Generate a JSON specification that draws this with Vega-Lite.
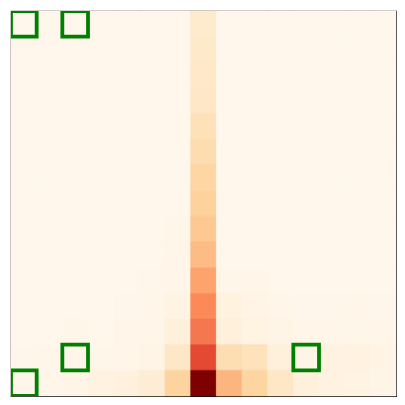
{
  "$schema": "https://vega.github.io/schema/vega-lite/v6.json",
  "width": 385,
  "height": 385,
  "padding": 10,
  "background": "white",
  "view": {"stroke": "black", "strokeWidth": 1.2},
  "datasets": {
    "cells": [
      {"row":0,"col":0,"v":0},{"row":0,"col":1,"v":0},{"row":0,"col":2,"v":0},{"row":0,"col":3,"v":0},{"row":0,"col":4,"v":0},{"row":0,"col":5,"v":0},{"row":0,"col":6,"v":0},{"row":0,"col":7,"v":0.11},{"row":0,"col":8,"v":0},{"row":0,"col":9,"v":0},{"row":0,"col":10,"v":0},{"row":0,"col":11,"v":0},{"row":0,"col":12,"v":0},{"row":0,"col":13,"v":0},{"row":0,"col":14,"v":0},
      {"row":1,"col":0,"v":0},{"row":1,"col":1,"v":0},{"row":1,"col":2,"v":0},{"row":1,"col":3,"v":0},{"row":1,"col":4,"v":0},{"row":1,"col":5,"v":0},{"row":1,"col":6,"v":0},{"row":1,"col":7,"v":0.12},{"row":1,"col":8,"v":0},{"row":1,"col":9,"v":0},{"row":1,"col":10,"v":0},{"row":1,"col":11,"v":0},{"row":1,"col":12,"v":0},{"row":1,"col":13,"v":0},{"row":1,"col":14,"v":0},
      {"row":2,"col":0,"v":0},{"row":2,"col":1,"v":0},{"row":2,"col":2,"v":0},{"row":2,"col":3,"v":0},{"row":2,"col":4,"v":0},{"row":2,"col":5,"v":0},{"row":2,"col":6,"v":0},{"row":2,"col":7,"v":0.125},{"row":2,"col":8,"v":0},{"row":2,"col":9,"v":0},{"row":2,"col":10,"v":0},{"row":2,"col":11,"v":0},{"row":2,"col":12,"v":0},{"row":2,"col":13,"v":0},{"row":2,"col":14,"v":0},
      {"row":3,"col":0,"v":0},{"row":3,"col":1,"v":0},{"row":3,"col":2,"v":0},{"row":3,"col":3,"v":0},{"row":3,"col":4,"v":0},{"row":3,"col":5,"v":0},{"row":3,"col":6,"v":0},{"row":3,"col":7,"v":0.13},{"row":3,"col":8,"v":0},{"row":3,"col":9,"v":0},{"row":3,"col":10,"v":0},{"row":3,"col":11,"v":0},{"row":3,"col":12,"v":0},{"row":3,"col":13,"v":0},{"row":3,"col":14,"v":0},
      {"row":4,"col":0,"v":0},{"row":4,"col":1,"v":0},{"row":4,"col":2,"v":0},{"row":4,"col":3,"v":0},{"row":4,"col":4,"v":0},{"row":4,"col":5,"v":0},{"row":4,"col":6,"v":0},{"row":4,"col":7,"v":0.17},{"row":4,"col":8,"v":0},{"row":4,"col":9,"v":0},{"row":4,"col":10,"v":0},{"row":4,"col":11,"v":0},{"row":4,"col":12,"v":0},{"row":4,"col":13,"v":0},{"row":4,"col":14,"v":0},
      {"row":5,"col":0,"v":0},{"row":5,"col":1,"v":0},{"row":5,"col":2,"v":0},{"row":5,"col":3,"v":0},{"row":5,"col":4,"v":0},{"row":5,"col":5,"v":0},{"row":5,"col":6,"v":0},{"row":5,"col":7,"v":0.2},{"row":5,"col":8,"v":0},{"row":5,"col":9,"v":0},{"row":5,"col":10,"v":0},{"row":5,"col":11,"v":0},{"row":5,"col":12,"v":0},{"row":5,"col":13,"v":0},{"row":5,"col":14,"v":0},
      {"row":6,"col":0,"v":0},{"row":6,"col":1,"v":0},{"row":6,"col":2,"v":0},{"row":6,"col":3,"v":0},{"row":6,"col":4,"v":0},{"row":6,"col":5,"v":0},{"row":6,"col":6,"v":0},{"row":6,"col":7,"v":0.235},{"row":6,"col":8,"v":0},{"row":6,"col":9,"v":0},{"row":6,"col":10,"v":0},{"row":6,"col":11,"v":0},{"row":6,"col":12,"v":0},{"row":6,"col":13,"v":0},{"row":6,"col":14,"v":0},
      {"row":7,"col":0,"v":0},{"row":7,"col":1,"v":0},{"row":7,"col":2,"v":0},{"row":7,"col":3,"v":0},{"row":7,"col":4,"v":0},{"row":7,"col":5,"v":0},{"row":7,"col":6,"v":0.002},{"row":7,"col":7,"v":0.26},{"row":7,"col":8,"v":0},{"row":7,"col":9,"v":0},{"row":7,"col":10,"v":0},{"row":7,"col":11,"v":0},{"row":7,"col":12,"v":0},{"row":7,"col":13,"v":0},{"row":7,"col":14,"v":0},
      {"row":8,"col":0,"v":0},{"row":8,"col":1,"v":0},{"row":8,"col":2,"v":0},{"row":8,"col":3,"v":0},{"row":8,"col":4,"v":0},{"row":8,"col":5,"v":0},{"row":8,"col":6,"v":0.006},{"row":8,"col":7,"v":0.31},{"row":8,"col":8,"v":0},{"row":8,"col":9,"v":0},{"row":8,"col":10,"v":0},{"row":8,"col":11,"v":0},{"row":8,"col":12,"v":0},{"row":8,"col":13,"v":0},{"row":8,"col":14,"v":0},
      {"row":9,"col":0,"v":0},{"row":9,"col":1,"v":0},{"row":9,"col":2,"v":0},{"row":9,"col":3,"v":0},{"row":9,"col":4,"v":0},{"row":9,"col":5,"v":0},{"row":9,"col":6,"v":0.01},{"row":9,"col":7,"v":0.37},{"row":9,"col":8,"v":0.002},{"row":9,"col":9,"v":0},{"row":9,"col":10,"v":0},{"row":9,"col":11,"v":0},{"row":9,"col":12,"v":0},{"row":9,"col":13,"v":0},{"row":9,"col":14,"v":0},
      {"row":10,"col":0,"v":0},{"row":10,"col":1,"v":0},{"row":10,"col":2,"v":0},{"row":10,"col":3,"v":0},{"row":10,"col":4,"v":0.002},{"row":10,"col":5,"v":0.005},{"row":10,"col":6,"v":0.015},{"row":10,"col":7,"v":0.44},{"row":10,"col":8,"v":0.008},{"row":10,"col":9,"v":0.01},{"row":10,"col":10,"v":0.004},{"row":10,"col":11,"v":0.002},{"row":10,"col":12,"v":0},{"row":10,"col":13,"v":0},{"row":10,"col":14,"v":0},
      {"row":11,"col":0,"v":0},{"row":11,"col":1,"v":0},{"row":11,"col":2,"v":0},{"row":11,"col":3,"v":0.002},{"row":11,"col":4,"v":0.005},{"row":11,"col":5,"v":0.01},{"row":11,"col":6,"v":0.03},{"row":11,"col":7,"v":0.51},{"row":11,"col":8,"v":0.045},{"row":11,"col":9,"v":0.025},{"row":11,"col":10,"v":0.012},{"row":11,"col":11,"v":0.005},{"row":11,"col":12,"v":0.005},{"row":11,"col":13,"v":0.015},{"row":11,"col":14,"v":0.005},
      {"row":12,"col":0,"v":0},{"row":12,"col":1,"v":0},{"row":12,"col":2,"v":0.006},{"row":12,"col":3,"v":0.004},{"row":12,"col":4,"v":0.01},{"row":12,"col":5,"v":0.015},{"row":12,"col":6,"v":0.06},{"row":12,"col":7,"v":0.57},{"row":12,"col":8,"v":0.055},{"row":12,"col":9,"v":0.035},{"row":12,"col":10,"v":0.02},{"row":12,"col":11,"v":0.01},{"row":12,"col":12,"v":0.01},{"row":12,"col":13,"v":0.008},{"row":12,"col":14,"v":0.012},
      {"row":13,"col":0,"v":0.005},{"row":13,"col":1,"v":0.008},{"row":13,"col":2,"v":0.01},{"row":13,"col":3,"v":0.008},{"row":13,"col":4,"v":0.015},{"row":13,"col":5,"v":0.025},{"row":13,"col":6,"v":0.13},{"row":13,"col":7,"v":0.69},{"row":13,"col":8,"v":0.19},{"row":13,"col":9,"v":0.16},{"row":13,"col":10,"v":0.06},{"row":13,"col":11,"v":0.02},{"row":13,"col":12,"v":0.04},{"row":13,"col":13,"v":0.04},{"row":13,"col":14,"v":0.025},
      {"row":14,"col":0,"v":0.01},{"row":14,"col":1,"v":0.012},{"row":14,"col":2,"v":0.018},{"row":14,"col":3,"v":0.04},{"row":14,"col":4,"v":0.05},{"row":14,"col":5,"v":0.08},{"row":14,"col":6,"v":0.25},{"row":14,"col":7,"v":1.0},{"row":14,"col":8,"v":0.39},{"row":14,"col":9,"v":0.245},{"row":14,"col":10,"v":0.13},{"row":14,"col":11,"v":0.06},{"row":14,"col":12,"v":0.04},{"row":14,"col":13,"v":0.035},{"row":14,"col":14,"v":0.018}
    ],
    "marks": [
      {"row":0,"col":0},{"row":0,"col":2},{"row":13,"col":2},{"row":13,"col":11},{"row":14,"col":0}
    ]
  },
  "layer": [
    {
      "data": {"name": "cells"},
      "mark": {"type": "rect", "strokeWidth": 0.6},
      "encoding": {
        "x": {"field": "col", "type": "ordinal", "axis": null, "scale": {"domain": [0,1,2,3,4,5,6,7,8,9,10,11,12,13,14], "paddingInner": 0, "paddingOuter": 0}},
        "y": {"field": "row", "type": "ordinal", "axis": null, "scale": {"domain": [0,1,2,3,4,5,6,7,8,9,10,11,12,13,14], "paddingInner": 0, "paddingOuter": 0}},
        "color": {"field": "v", "type": "quantitative", "legend": null,
          "scale": {"type": "linear", "domain": [0, 0.125, 0.25, 0.375, 0.5, 0.625, 0.75, 0.875, 1],
            "range": ["#fff7ec", "#fee8c8", "#fdd49e", "#fdbb84", "#fc8d59", "#ef6548", "#d7301f", "#b30000", "#7f0000"],
            "interpolate": "rgb"}},
        "stroke": {"field": "v", "type": "quantitative", "legend": null,
          "scale": {"type": "linear", "domain": [0, 0.125, 0.25, 0.375, 0.5, 0.625, 0.75, 0.875, 1],
            "range": ["#fff7ec", "#fee8c8", "#fdd49e", "#fdbb84", "#fc8d59", "#ef6548", "#d7301f", "#b30000", "#7f0000"],
            "interpolate": "rgb"}}
      }
    },
    {
      "data": {"name": "marks"},
      "mark": {"type": "rect", "filled": false, "stroke": "#008000", "strokeWidth": 3.8, "clip": true},
      "encoding": {
        "x": {"field": "col", "type": "ordinal"},
        "y": {"field": "row", "type": "ordinal"}
      }
    }
  ]
}
